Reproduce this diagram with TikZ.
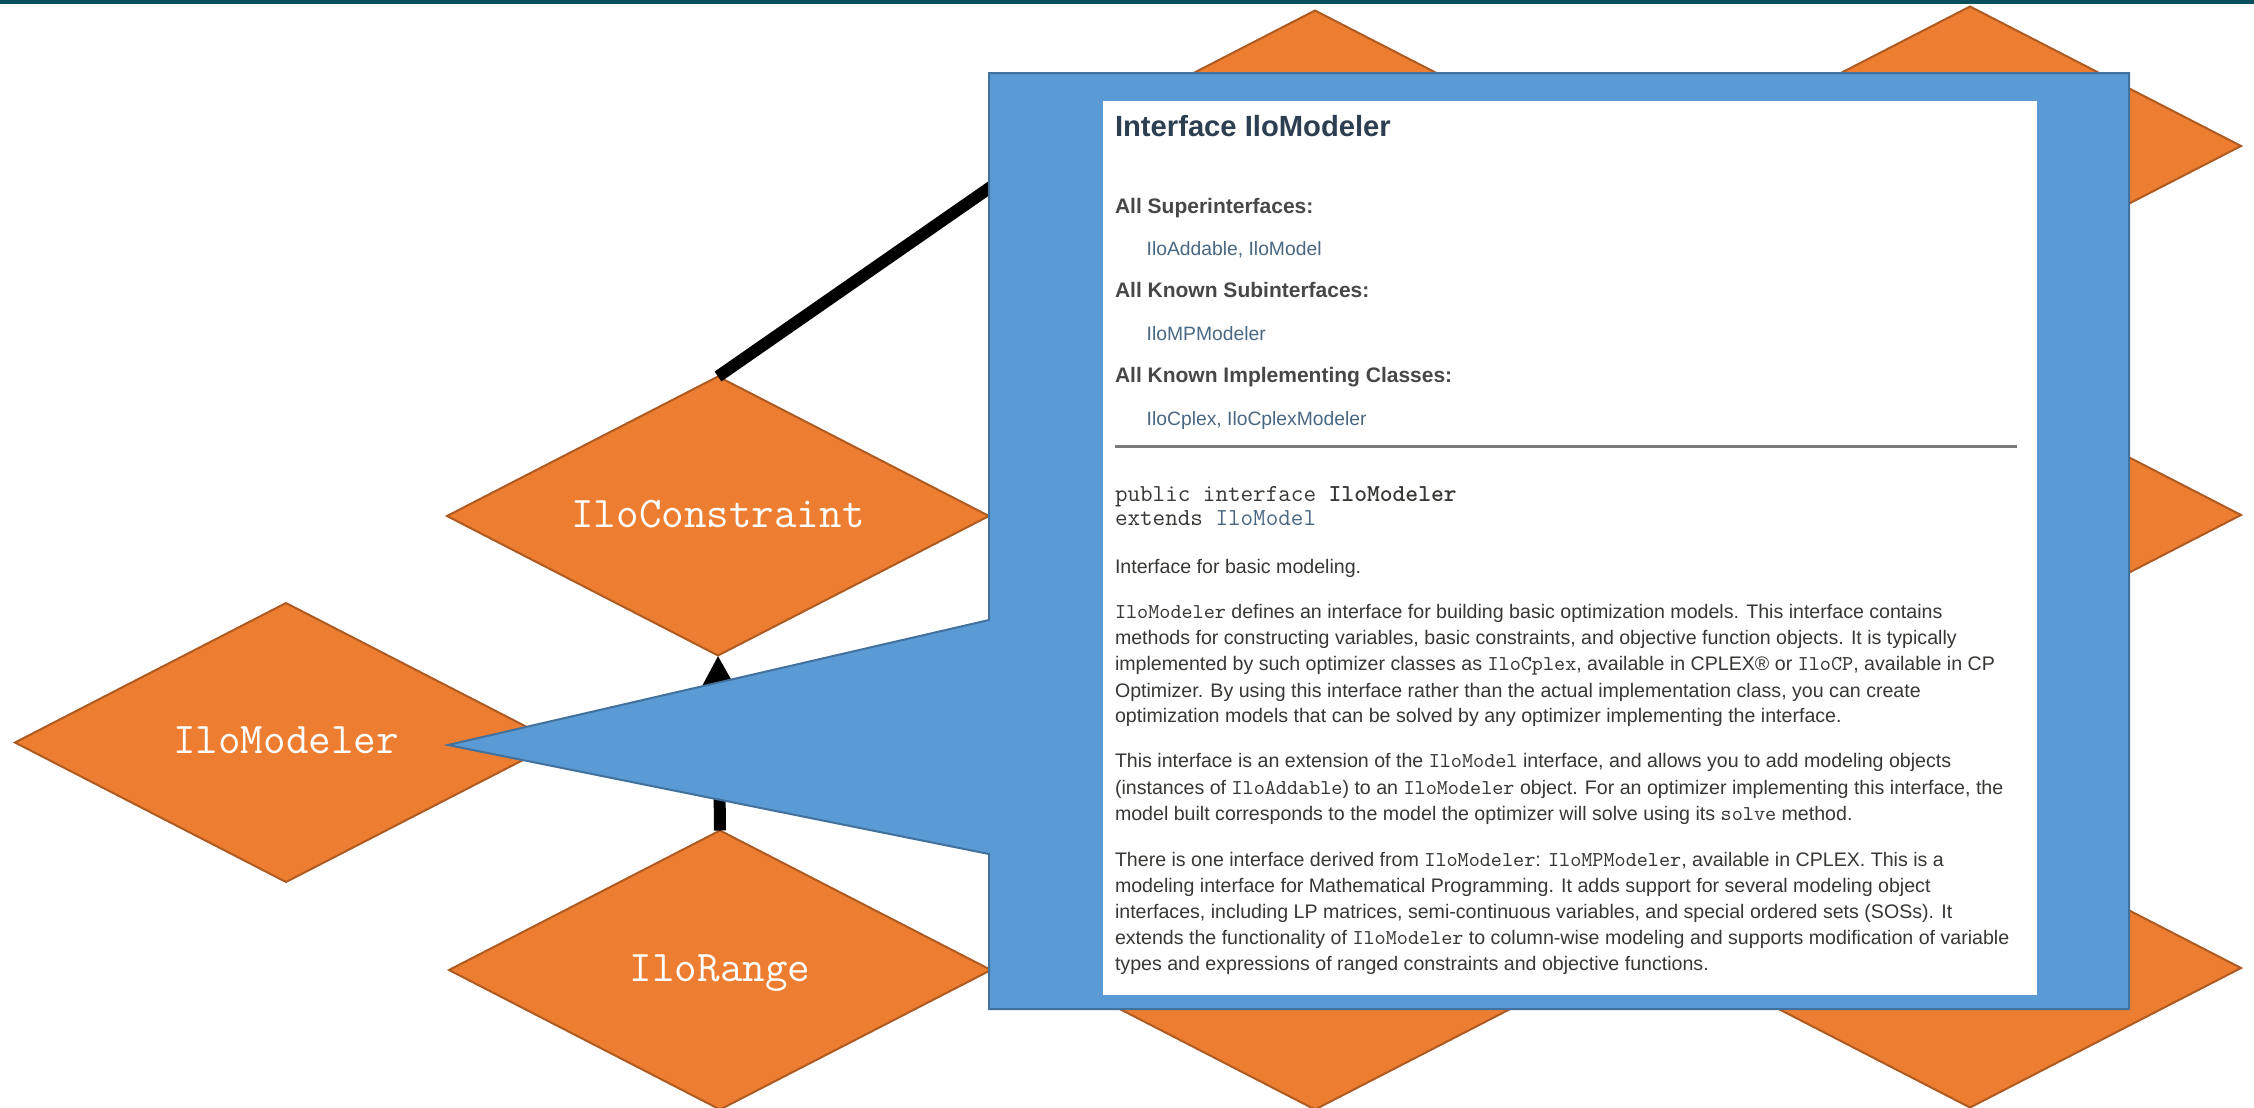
\documentclass[tikz,border=0pt]{standalone}
\usepackage{fontspec}
\setmainfont{Liberation Sans}
\usetikzlibrary{shapes.geometric,arrows.meta}
\definecolor{orangeF}{HTML}{ED7D31}
\definecolor{orangeD}{HTML}{AE5A21}
\definecolor{blueF}{HTML}{5B9BD5}
\definecolor{blueD}{HTML}{41719C}
\definecolor{barc}{HTML}{0A4F5C}
\definecolor{titlec}{HTML}{2C3E50}
\definecolor{headc}{HTML}{474747}
\definecolor{linkc}{HTML}{4A6782}
\definecolor{bodyc}{HTML}{353833}
\definecolor{hrc}{HTML}{7A7A7A}
\newcommand\mcode[1]{{\ttfamily\fontsize{10.57}{12}\selectfont #1}}
\tikzset{
  dia/.style={shape=diamond, aspect=1.943, fill=orangeF, draw=orangeD, line width=1pt,
    minimum width=271pt, minimum height=139.5pt, inner sep=0pt, outer sep=0pt,
    text=white, font=\ttfamily\fontsize{21.9}{26}\selectfont, text height=11pt, text depth=0pt},
  conn/.style={line width=6pt, black},
  callout/.style={fill=blueF, draw=blueD, line width=1pt},
  ln/.style={anchor=base west, inner sep=0pt, outer sep=0pt},
  body/.style={ln, text=bodyc, font=\fontsize{9.8}{12}\selectfont},
  head/.style={ln, text=headc, font=\bfseries\fontsize{10.5}{12}\selectfont},
  link/.style={ln, text=linkc, font=\fontsize{9.65}{12}\selectfont},
  pre/.style={ln, text=bodyc, font=\ttfamily\fontsize{12.2}{14}\selectfont},
}
\begin{document}
\begin{tikzpicture}[x=0.5pt,y=-0.5pt]
\useasboundingbox (0,0) rectangle (2254,1108);
\fill[white] (0,0) rectangle (2254,1108);
\fill[barc] (0,0) rectangle (2254,3.5);
% diamonds
\node[dia] (tm) at (1315,150) {};
\node[dia] (bm) at (1315,970) {};
\node[dia] (tr) at (1970,146) {};
\node[dia] (mr) at (1970,515) {};
\node[dia] (br) at (1970,968) {};
\node[dia] (con) at (718,516) {IloConstraint};
\node[dia] (mod) at (286,742.5) {IloModeler};
\node[dia] (rng) at (720,970) {IloRange};
% connectors
\draw[conn] (con.north) -- (tm.west);
\draw[conn, -{Triangle[width=18pt,length=18pt]}] (rng.north) -- (con.south);
% callout
\coordinate (tip) at (448,745);
\path[callout] (989,73) -- (2129,73) -- (2129,1009) -- (989,1009) -- (989,854) -- (tip) -- (989,620) -- cycle;
\fill[white] (1103,101) rectangle (2037,995);
% text
\node[ln, text=titlec, font=\bfseries\fontsize{14.6}{17}\selectfont] (title) at (1115,136.7) {Interface IloModeler};
\node[head] (h1) at (1115,213.3) {All Superinterfaces:};
\node[link] (k1) at (1146.7,255) {IloAddable, IloModel};
\node[head] (h2) at (1115,297.7) {All Known Subinterfaces:};
\node[link] (k2) at (1146.7,340) {IloMPModeler};
\node[head] (h3) at (1115,382.3) {All Known Implementing Classes:};
\node[link] (k3) at (1146.7,425) {IloCplex, IloCplexModeler};
\draw[hrc, line width=1.5pt] (1115,446) -- (2017,446);
\node[pre] (pr1) at (1115,501.7) {public interface \textbf{IloModeler}};
\node[pre] (pr2) at (1115,525) {extends \textcolor{linkc}{IloModel}};
\node[body] (intro) at (1115,573.3) {Interface for basic modeling.};
\node[body] (pa1) at (1115,618.3) {\mcode{IloModeler} defines an interface for building basic optimization models. This interface contains};
\node[body] (pa2) at (1115,644.3) {methods for constructing variables, basic constraints, and objective function objects. It is typically};
\node[body] (pa3) at (1115,670) {implemented by such optimizer classes as \mcode{IloCplex}, available in CPLEX® or \mcode{IloCP}, available in CP};
\node[body] (pa4) at (1115,697.3) {Optimizer. By using this interface rather than the actual implementation class, you can create};
\node[body] (pa5) at (1115,722.7) {optimization models that can be solved by any optimizer implementing the interface.};
\node[body] (pb1) at (1115,767.7) {This interface is an extension of the \mcode{IloModel} interface, and allows you to add modeling objects};
\node[body] (pb2) at (1115,794) {(instances of \mcode{IloAddable}) to an \mcode{IloModeler} object. For an optimizer implementing this interface, the};
\node[body] (pb3) at (1115,820.7) {model built corresponds to the model the optimizer will solve using its \mcode{solve} method.};
\node[body] (pc1) at (1115,866.7) {There is one interface derived from \mcode{IloModeler}: \mcode{IloMPModeler}, available in CPLEX. This is a};
\node[body] (pc2) at (1115,892.7) {modeling interface for Mathematical Programming. It adds support for several modeling object};
\node[body] (pc3) at (1115,918.3) {interfaces, including LP matrices, semi-continuous variables, and special ordered sets (SOSs). It};
\node[body] (pc4) at (1115,944.3) {extends the functionality of \mcode{IloModeler} to column-wise modeling and supports modification of variable};
\node[body] (pc5) at (1115,970.7) {types and expressions of ranged constraints and objective functions.};
\end{tikzpicture}
\end{document}
